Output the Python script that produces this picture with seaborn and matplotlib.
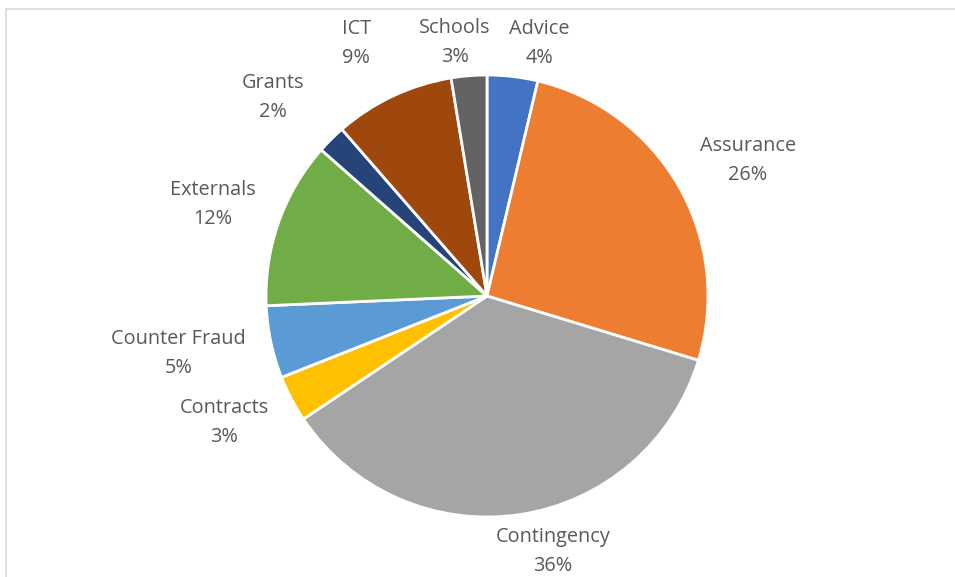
import numpy as np
import matplotlib
matplotlib.use("Agg")
import matplotlib.pyplot as plt
import seaborn as sns
from matplotlib.lines import Line2D

sns.set_theme(style="white")
plt.rcParams['font.family'] = ['Open Sans', 'DejaVu Sans']

categories = ["Advice", "Assurance", "Contingency", "Contracts", "Counter Fraud",
              "Externals", "Grants", "ICT", "Schools"]
values = [3.7, 26.0, 35.9, 3.4, 5.3, 12.2, 2.1, 8.8, 2.6]
pct_labels = ["4%", "26%", "36%", "3%", "5%", "12%", "2%", "9%", "3%"]
colors = ["#4472C4", "#ED7D31", "#A5A5A5", "#FFC000", "#5B9BD5",
          "#70AD47", "#264478", "#9E480E", "#636363"]

# label layout: radial distance (px) and angle nudge (deg, clockwise)
label_r = [258, 294, 264, 292, 314, 289, 292, 284, 255]
label_nudge = [5, 2.5, -6, 2, 1.5, -1, -2.3, -2.2, -2.5]

W, H = 955, 577
fig = plt.figure(figsize=(W / 100, H / 100), dpi=100)
ax = fig.add_axes([0, 0, 1, 1])

cx, cy, R = 487, H - 296, 221
wedges, _ = ax.pie(values, colors=colors, startangle=90, counterclock=False,
                   center=(cx, cy), radius=R, frame=True,
                   wedgeprops=dict(edgecolor="white", linewidth=2.0))
ax.set_xlim(0, W)
ax.set_ylim(0, H)
ax.set_aspect("equal")
ax.axis("off")

total = sum(values)
cum = 0.0
for i, (cat, v, pl) in enumerate(zip(categories, values, pct_labels)):
    mid = (cum + v / 2) / total * 360.0 + label_nudge[i]
    cum += v
    th = np.deg2rad(mid)
    x = cx + label_r[i] * np.sin(th)
    y = cy + label_r[i] * np.cos(th)
    ax.text(x, y, f"{cat}\n{pl}", ha="center", va="center", fontsize=14.3,
            color="#595959", linespacing=1.6)

fig.add_artist(Line2D([6 / W, 1], [1 - 9 / H, 1 - 9 / H], color="#D9D9D9", lw=1.2))
fig.add_artist(Line2D([6 / W, 6 / W], [0, 1 - 9 / H], color="#D9D9D9", lw=1.2))

fig.savefig("out.png", dpi=100, facecolor="white")
